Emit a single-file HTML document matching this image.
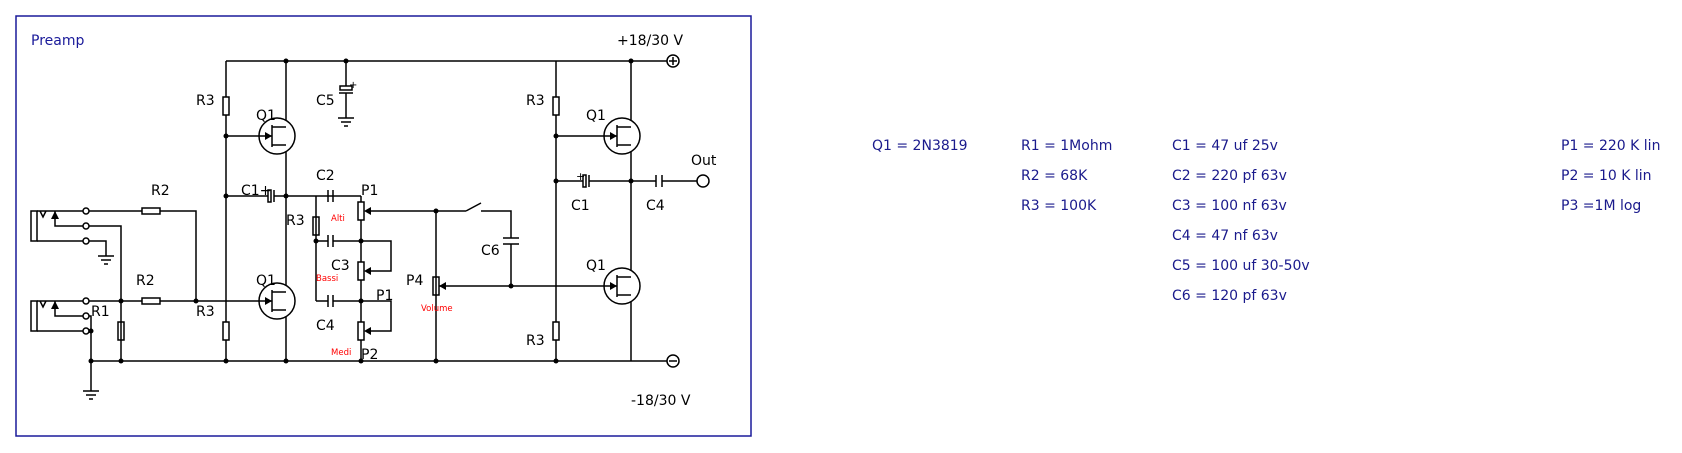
<!DOCTYPE html>
<html><head><meta charset="utf-8"><style>
html,body{margin:0;padding:0;background:#fff;width:1682px;height:453px;overflow:hidden}
svg{display:block}
text{font-family:"DejaVu Sans","Liberation Sans",sans-serif}
</style></head><body>
<svg width="1682" height="453" viewBox="0 0 1682 453" xmlns="http://www.w3.org/2000/svg">
<rect x="16" y="16" width="735" height="420" fill="none" stroke="#1a1a9a" stroke-width="1.5"/>
<text x="31" y="45" font-size="14" fill="#1a1a9a">Preamp</text>
<g stroke="#000" stroke-width="1.5" fill="none">
<!-- rails -->
<path d="M226 61H667M91 361H667"/>
<circle cx="673" cy="61" r="6"/><path d="M669 61h8M673 57v8"/>
<circle cx="673" cy="361" r="6"/><path d="M669 361h8"/>
<!-- left verticals -->
<path d="M226 61V361M286 61V361M556 61V361M631 61V361"/>
<!-- C5 -->
<path d="M346 61V86M346 93V118M338 118h16M341 122h10M344 126h4"/>
<rect x="340" y="86" width="12" height="4" fill="#fff"/><path d="M339 93h14"/>
<!-- left Q1 -->
<circle cx="277" cy="136" r="18" fill="#fff"/>
<path d="M226 136H272M272 125V147M272 127h14M272 145h14"/>
<circle cx="277" cy="301" r="18" fill="#fff"/>
<path d="M196 301H272M272 290V312M272 292h14M272 310h14"/>
<!-- right Q1 -->
<circle cx="622" cy="136" r="18" fill="#fff"/>
<path d="M556 136H617M617 125V147M617 127h14M617 145h14"/>
<circle cx="622" cy="286" r="18" fill="#fff"/>
<path d="M436 286H617M617 275V297M617 277h14M617 295h14"/>
<!-- resistors -->
<g fill="#fff">
<rect x="223" y="97" width="6" height="18"/><rect x="223" y="322" width="6" height="18"/>
<rect x="553" y="97" width="6" height="18"/><rect x="553" y="322" width="6" height="18"/>
<rect x="313" y="217" width="6" height="18"/>
<rect x="118" y="322" width="6" height="18"/>
<rect x="142" y="208" width="18" height="6"/><rect x="142" y="298" width="18" height="6"/>
</g>
<!-- C1 left -->
<path d="M226 196H268M274 196H361"/>
<rect x="268" y="190" width="3" height="12" fill="#fff"/><path d="M274 190v12"/>
<!-- C2, C3, C4 caps -->
<path d="M328 190v12M333 190v12"/>
<path d="M316 196V301M316 241H328M333 241H391V271H366M316 301H328M333 301H391V331H366"/>
<path d="M328 235v12M333 235v12M328 295v12M333 295v12"/>
<path d="M361 196V361"/>
<g fill="#fff"><rect x="358" y="202" width="6" height="18"/><rect x="358" y="262" width="6" height="18"/><rect x="358" y="322" width="6" height="18"/><rect x="433" y="277" width="6" height="18"/></g>
<!-- P1 wiper -->
<path d="M366 211H466M466 211L481 203M481 211H511V238M511 244V286M503 238h16M503 244h16"/>
<path d="M436 211V361"/>
<!-- right C1 C4 -->
<path d="M556 181H583M589 181H656M662 181H697"/>
<rect x="583" y="175" width="3" height="12" fill="#fff"/><path d="M589 175v12M656 175v12M662 175v12"/>
<circle cx="703" cy="181" r="6" fill="#fff"/>
<!-- jacks -->
<rect x="31" y="211" width="6" height="30"/><rect x="31" y="301" width="6" height="30"/>
<path d="M37 211H83M40 211l3 6 3-6M55 211V226H83M37 241H83M89 211H142M160 211H196V301M89 226H121V361M89 241H106V256M98 256h16M101 260h10M104 264h4"/>
<path d="M37 301H83M40 301l3 6 3-6M55 301V316H83M37 331H83M89 301H142M160 301H196M89 316H91V391M83 391h16M86 395h10M89 399h4"/>
<circle cx="86" cy="211" r="3"/><circle cx="86" cy="226" r="3"/><circle cx="86" cy="241" r="3"/>
<circle cx="86" cy="301" r="3"/><circle cx="86" cy="316" r="3"/><circle cx="86" cy="331" r="3"/>
</g>
<!-- arrows -->
<g fill="#000">
<path d="M272 136l-7-4v8zM272 301l-7-4v8zM617 136l-7-4v8zM617 286l-7-4v8z"/>
<path d="M364 211l7-4v8zM364 271l7-4v8zM364 331l7-4v8zM439 286l7-4v8z"/>
<path d="M55 211l-4 8h8z M55 301l-4 8h8z"/>
<circle cx="286" cy="61" r="2.5"/><circle cx="346" cy="61" r="2.5"/><circle cx="631" cy="61" r="2.5"/>
<circle cx="91" cy="361" r="2.5"/><circle cx="121" cy="361" r="2.5"/><circle cx="226" cy="361" r="2.5"/><circle cx="286" cy="361" r="2.5"/><circle cx="361" cy="361" r="2.5"/><circle cx="436" cy="361" r="2.5"/><circle cx="556" cy="361" r="2.5"/>
<circle cx="226" cy="136" r="2.5"/><circle cx="226" cy="196" r="2.5"/><circle cx="286" cy="196" r="2.5"/>
<circle cx="316" cy="241" r="2.5"/><circle cx="361" cy="241" r="2.5"/><circle cx="361" cy="301" r="2.5"/>
<circle cx="121" cy="301" r="2.5"/><circle cx="196" cy="301" r="2.5"/><circle cx="91" cy="331" r="2.5"/>
<circle cx="436" cy="211" r="2.5"/><circle cx="511" cy="286" r="2.5"/>
<circle cx="556" cy="136" r="2.5"/><circle cx="556" cy="181" r="2.5"/><circle cx="631" cy="181" r="2.5"/>
</g>
<g font-size="14" fill="#000">
<text x="617" y="45">+18/30 V</text><text x="631" y="405">-18/30 V</text>
<text x="196" y="105">R3</text><text x="256" y="120">Q1</text><text x="316" y="105">C5</text><text x="349" y="88" font-size="10">+</text>
<text x="241" y="195">C1+</text><text x="316" y="180">C2</text><text x="361" y="195">P1</text>
<text x="286" y="225">R3</text><text x="331" y="270">C3</text><text x="376" y="300">P1</text>
<text x="316" y="330">C4</text><text x="361" y="359">P2</text>
<text x="151" y="195">R2</text><text x="136" y="285">R2</text><text x="91" y="316">R1</text>
<text x="196" y="316">R3</text><text x="256" y="285">Q1</text>
<text x="406" y="285">P4</text><text x="481" y="255">C6</text>
<text x="526" y="105">R3</text><text x="586" y="120">Q1</text><text x="576" y="180" font-size="11">+</text>
<text x="571" y="210">C1</text><text x="646" y="210">C4</text><text x="691" y="165">Out</text>
<text x="586" y="270">Q1</text><text x="526" y="345">R3</text>
</g>
<g font-size="8.5" fill="#f00">
<text x="331" y="221">Alti</text><text x="316" y="281">Bassi</text><text x="331" y="355">Medi</text><text x="421" y="311">Volume</text>
</g>
<g font-size="14" fill="#1a1a8c">
<text x="872" y="150">Q1 = 2N3819</text>
<text x="1021" y="150">R1 = 1Mohm</text><text x="1021" y="180">R2 = 68K</text><text x="1021" y="210">R3 = 100K</text>
<text x="1172" y="150">C1 = 47 uf 25v</text><text x="1172" y="180">C2 = 220 pf 63v</text><text x="1172" y="210">C3 = 100 nf 63v</text>
<text x="1172" y="240">C4 = 47 nf 63v</text><text x="1172" y="270">C5 = 100 uf 30-50v</text><text x="1172" y="300">C6 = 120 pf 63v</text>
<text x="1561" y="150">P1 = 220 K lin</text><text x="1561" y="180">P2 = 10 K lin</text><text x="1561" y="210">P3 =1M log</text>
</g>
</svg>
</body></html>
